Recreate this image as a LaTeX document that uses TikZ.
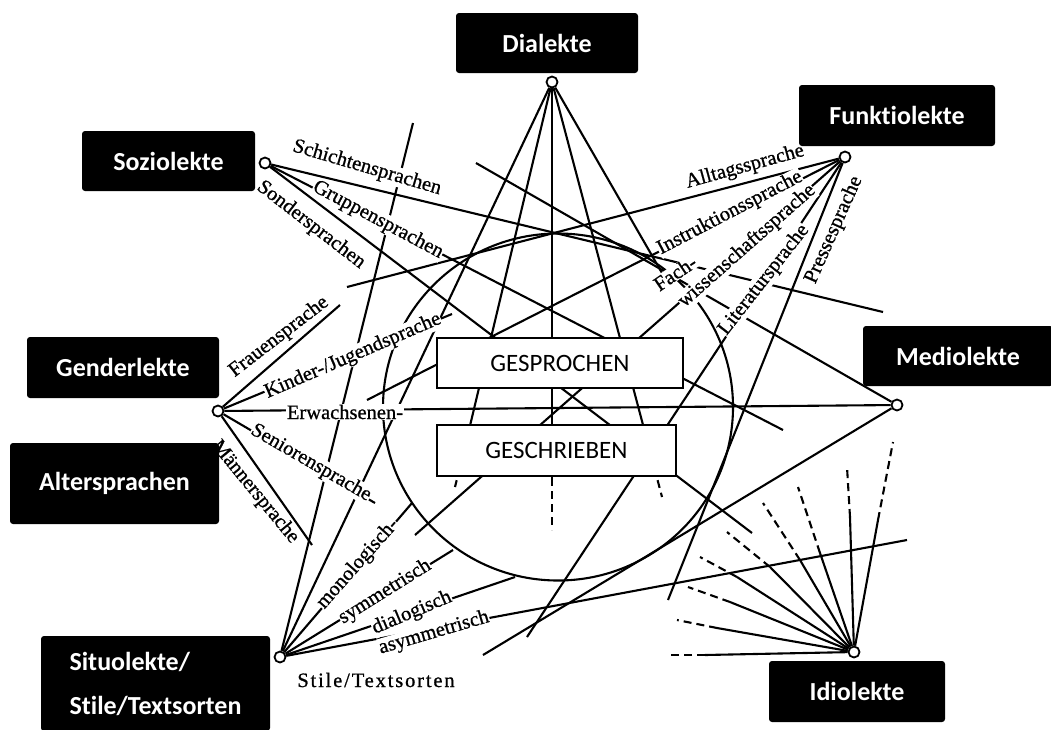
\documentclass[tikz,border=0pt]{standalone}
\usepackage{fontspec}
\newfontfamily\boxfont{Carlito}[Ligatures=NoCommon]
\newfontfamily\labfont{Liberation Serif}[FakeBold=0.8]
\newfontfamily\widefont{Liberation Serif}[FakeBold=0.8,LetterSpace=9]
\begin{document}
\begin{tikzpicture}[x=1pt,y=-1pt,
  pole/.style={circle,draw=black,fill=white,line width=1.8pt,minimum size=11pt,inner sep=0pt},
  ln/.style={line width=2.1pt},
  dsh/.style={line width=2.1pt,dash pattern=on 8pt off 5pt},
  lab/.style={font=\labfont\fontsize{20.5}{22}\selectfont,fill=white,inner sep=0.5pt},
  tag/.style={fill=black,rounded corners=3pt,text=white,inner sep=0pt,
    font=\boxfont\bfseries\fontsize{26}{44}\selectfont},
  mbox/.style={draw=black,line width=1.3pt,fill=white,inner sep=0pt,
    font=\boxfont\fontsize{25}{30}\selectfont}]
\useasboundingbox (0,0) rectangle (1051,729);

% poles
\node[pole] (D) at (552,82) {};
\node[pole] (F) at (845,157) {};
\node[pole] (S) at (265,163) {};
\node[pole] (M) at (897,405) {};
\node[pole] (G) at (218,411) {};
\node[pole] (St) at (280,657) {};
\node[pole] (I) at (854,652) {};

% free ends
\coordinate (d2a) at (463,455); \coordinate (d2b) at (455,487);
\coordinate (d3a) at (552,478); \coordinate (d3b) at (552,530);
\coordinate (d4a) at (651,455); \coordinate (d4b) at (662,497);
\coordinate (d5) at (662,273);
\coordinate (s1) at (883,312); \coordinate (s2) at (783,430); \coordinate (s3) at (752,533);
\coordinate (f1) at (347,287); \coordinate (f2) at (367,400); \coordinate (f3) at (415,535);
\coordinate (f4) at (527,637); \coordinate (f5) at (668,600);
\coordinate (m1) at (476,163); \coordinate (m2) at (483,655);
\coordinate (g1) at (340,305); \coordinate (g2) at (452,314); \coordinate (g3) at (375,503);
\coordinate (g4) at (312,545);
\coordinate (t1) at (413,123); \coordinate (t2) at (412,503); \coordinate (t3) at (453,550);
\coordinate (t4) at (515,577); \coordinate (t5) at (907,540);
\coordinate (i1a) at (705,655); \coordinate (i1b) at (667,655);
\coordinate (i2a) at (717,628); \coordinate (i2b) at (677,620);
\coordinate (i3a) at (730,602); \coordinate (i3b) at (688,587);
\coordinate (i4a) at (737,577); \coordinate (i4b) at (700,557);
\coordinate (i5a) at (770,567); \coordinate (i5b) at (727,532);
\coordinate (i6a) at (800,560); \coordinate (i6b) at (763,503);
\coordinate (i7a) at (820,553); \coordinate (i7b) at (798,487);
\coordinate (i8a) at (850,517); \coordinate (i8b) at (847,467);
\coordinate (i9a) at (878,520); \coordinate (i9b) at (893,442);

% Dialekte
\draw[ln] (D) -- (St);
\draw[ln] (D) -- (d2a); \draw[dsh] (d2a) -- (d2b);
\draw[ln] (D) -- (d3a); \draw[dsh] (d3a) -- (d3b);
\draw[ln] (D) -- (d4a); \draw[dsh] (d4a) -- (d4b);
\draw[ln] (D) -- (d5);
% Soziolekte
\draw[ln] (S) -- (s1); \draw[ln] (S) -- (s2); \draw[ln] (S) -- (s3);
% Funktiolekte
\draw[ln] (F) -- (f1); \draw[ln] (F) -- (f2); \draw[ln] (F) -- (f3);
\draw[ln] (F) -- (f4); \draw[ln] (F) -- (f5);
% Mediolekte
\draw[ln] (M) -- (m1); \draw[ln] (M) -- (m2); \draw[ln] (G) -- (M);
% Genderlekte
\draw[ln] (G) -- (g1); \draw[ln] (G) -- (g2); \draw[ln] (G) -- (g3); \draw[ln] (G) -- (g4);
% Situolekte
\draw[ln] (St) -- (t1); \draw[ln] (St) -- (t2); \draw[ln] (St) -- (t3);
\draw[ln] (St) -- (t4); \draw[ln] (St) -- (t5);
% Idiolekte
\foreach \k in {1,...,9} {\draw[ln] (I) -- (i\k a); \draw[dsh] (i\k a) -- (i\k b);}

% circle gesprochen / geschrieben
\draw[ln] (558,407) ellipse [x radius=175, y radius=173.5];

% labels
\node[lab,rotate=-16.4] (lb1) at (367,168) {Schichtensprachen};
\node[lab,rotate=-28] (lb2) at (378,220) {Gruppensprachen};
\node[lab,rotate=-37.6] (lb3) at (311,225) {Sondersprachen};
\node[lab,rotate=37.6] (lb4) at (279,337) {Frauensprache};
\node[lab,rotate=23.3] (lb5) at (353,356) {Kinder-/Jugendsprache};
\node[lab] (lb6) at (345,412) {Erwachsenen-};
\node[lab,rotate=-30] (lb7) at (311,463) {Seniorensprache};
\node[lab,rotate=-50.6] (lb8) at (255,492) {Männersprache};
\node[lab,rotate=48.5] (lb9) at (358,564) {monologisch-};
\node[lab,rotate=32] (lb10) at (385,592) {symmetrisch};
\node[lab,rotate=22.9] (lb11) at (412,613) {dialogisch};
\node[lab,rotate=16.3] (lb12) at (434,633) {asymmetrisch};
\node[lab,font=\widefont\fontsize{20.5}{22}\selectfont] (lb13) at (376,680) {Stile/Textsorten};
\node[lab,rotate=15.4] (lb14) at (745,167) {Alltagssprache};
\node[lab,rotate=27.5] (lb15) at (730,213) {Instruktionssprache};
\node[lab,rotate=34] (lb16) at (675,273) {Fach-};
\node[lab,rotate=41.4] (lb17) at (747,246) {wissenschaftssprache};
\node[lab,rotate=52] (lb18) at (764,280) {Literatursprache};
\node[lab,rotate=66] (lb19) at (834,230) {Pressesprache};

% medium boxes
\node[mbox,minimum width=246pt,minimum height=50pt] (gsp) at (560,363) {GESPROCHEN};
\node[mbox,minimum width=239pt,minimum height=51pt] (gsc) at (556.5,450.5) {GESCHRIEBEN};

% black tags
\node[tag,minimum width=182pt,minimum height=60pt] (tD) at (547,43) {Dialekte};
\node[tag,minimum width=196pt,minimum height=61pt] (tF) at (897,115.5) {Funktiolekte};
\node[tag,minimum width=173pt,minimum height=60pt] (tS) at (168.5,161) {Soziolekte};
\node[tag,minimum width=190pt,minimum height=60pt] (tM) at (958,356) {Mediolekte};
\node[tag,minimum width=192pt,minimum height=61pt] (tG) at (123,367.5) {Genderlekte};
\node[tag,minimum width=209pt,minimum height=81pt] (tA) at (114.5,483.5) {Altersprachen};
\node[tag,minimum width=229pt,minimum height=95pt,align=left] (tSt) at (155.5,683.5) {Situolekte/\\Stile/Textsorten};
\node[tag,minimum width=176pt,minimum height=61pt] (tI) at (857,691.5) {Idiolekte};
\end{tikzpicture}
\end{document}
